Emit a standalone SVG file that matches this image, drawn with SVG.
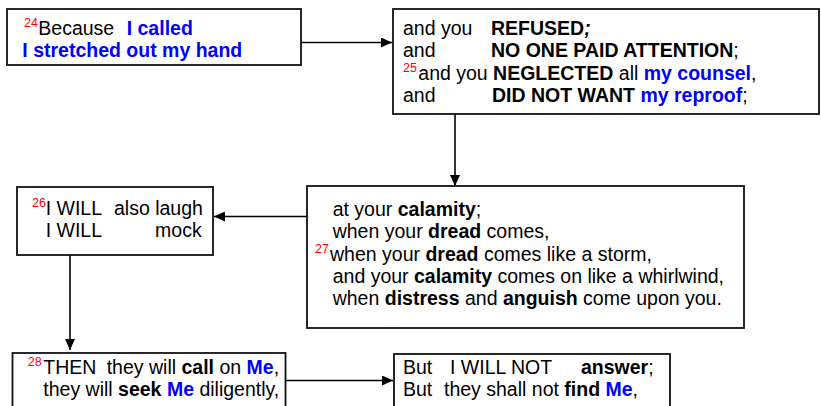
<svg xmlns="http://www.w3.org/2000/svg" width="821" height="406" viewBox="0 0 821 406">
<style>
  .box { fill: #fff; stroke: #111; stroke-width: 1.8; }
  .t { font-family: "Liberation Sans", Arial, sans-serif; font-size: 19.5px; fill: #000; }
  .b { font-weight: bold; }
  .blue { fill: #0000ff; font-weight: bold; }
  .sup { fill: #ff0000; font-size: 12.5px; }
  .con { stroke: #000; stroke-width: 1.6; fill: none; }
</style>
<defs>
  <marker id="arr" markerUnits="userSpaceOnUse" markerWidth="12" markerHeight="10" refX="11" refY="5" orient="auto">
    <path d="M0,0 L11,5 L0,10 Z" fill="#000"/>
  </marker>
</defs>
<rect width="821" height="406" fill="#fff"/>

<g id="connectors">
  <line class="con" x1="301" y1="42.5" x2="392" y2="42.5" marker-end="url(#arr)"/>
  <line class="con" x1="455" y1="114" x2="455" y2="186" marker-end="url(#arr)"/>
  <line class="con" x1="307" y1="216.5" x2="214" y2="216.5" marker-end="url(#arr)"/>
  <line class="con" x1="70" y1="255" x2="70" y2="350" marker-end="url(#arr)"/>
  <line class="con" x1="285" y1="380.5" x2="393" y2="380.5" marker-end="url(#arr)"/>
</g>

<g id="node1">
  <rect class="box" x="7" y="9" width="294" height="56"/>
  <text class="t" y="35"><tspan class="sup" x="24" y="27">24</tspan><tspan x="38.3" y="35">Because</tspan><tspan class="blue" x="126.7">I called</tspan></text>
  <text class="t blue" x="22.3" y="56.7">I stretched out my hand</text>
</g>

<g id="node2">
  <rect class="box" x="393" y="9" width="426" height="105"/>
  <text class="t" y="35"><tspan x="403">and you</tspan><tspan class="b" x="491">REFUSED<tspan font-style="italic">;</tspan></tspan></text>
  <text class="t" y="56.7"><tspan x="403">and</tspan><tspan class="b" x="491">NO ONE PAID ATTENTION</tspan>;</text>
  <text class="t" y="80"><tspan class="sup" x="403" y="72">25</tspan><tspan x="418.3" y="80">and you </tspan><tspan class="b">NEGLECTED</tspan> all <tspan class="blue">my counsel</tspan>,</text>
  <text class="t" y="101.7"><tspan x="403">and</tspan><tspan class="b" x="492">DID NOT WANT</tspan> <tspan class="blue">my reproof</tspan>;</text>
</g>

<g id="node3">
  <rect class="box" x="307" y="186" width="437" height="142"/>
  <text class="t" x="332.7" y="215.5">at your <tspan class="b">calamity</tspan>;</text>
  <text class="t" x="332.7" y="237.5">when your <tspan class="b">dread</tspan> comes,</text>
  <text class="t" y="260.5"><tspan class="sup" x="315" y="252.5">27</tspan><tspan x="330" y="260.5">when your </tspan><tspan class="b">dread</tspan> comes like a storm,</text>
  <text class="t" x="332.7" y="283">and your <tspan class="b">calamity</tspan> comes on like a whirlwind,</text>
  <text class="t" x="332.7" y="305">when <tspan class="b">distress</tspan> and <tspan class="b">anguish</tspan> come upon you.</text>
</g>

<g id="node4">
  <rect class="box" x="17" y="187" width="196" height="68"/>
  <text class="t" y="215"><tspan class="sup" x="32" y="207">26</tspan><tspan x="45.7" y="215">I WILL</tspan><tspan x="114">also laugh</tspan></text>
  <text class="t" y="237"><tspan x="45.7">I WILL</tspan><tspan x="201.7" text-anchor="end">mock</tspan></text>
</g>

<g id="node5">
  <rect class="box" x="12.5" y="353" width="273" height="70"/>
  <text class="t" y="374"><tspan class="sup" x="27.7" y="366">28</tspan><tspan x="43.3" y="374">THEN</tspan><tspan x="106.7">they will </tspan><tspan class="b">call</tspan> on <tspan class="blue">Me</tspan>,</text>
  <text class="t" x="43.3" y="396">they will <tspan class="b">seek</tspan> <tspan class="blue">Me</tspan> diligently,</text>
</g>

<g id="node6">
  <rect class="box" x="394" y="354" width="276" height="70"/>
  <text class="t" y="374"><tspan x="403">But</tspan><tspan x="450">I WILL NOT</tspan><tspan class="b" x="581">answer</tspan>;</text>
  <text class="t" y="396"><tspan x="403">But</tspan><tspan x="444">they shall not </tspan><tspan class="b">find</tspan> <tspan class="blue">Me</tspan>,</text>
</g>
</svg>
